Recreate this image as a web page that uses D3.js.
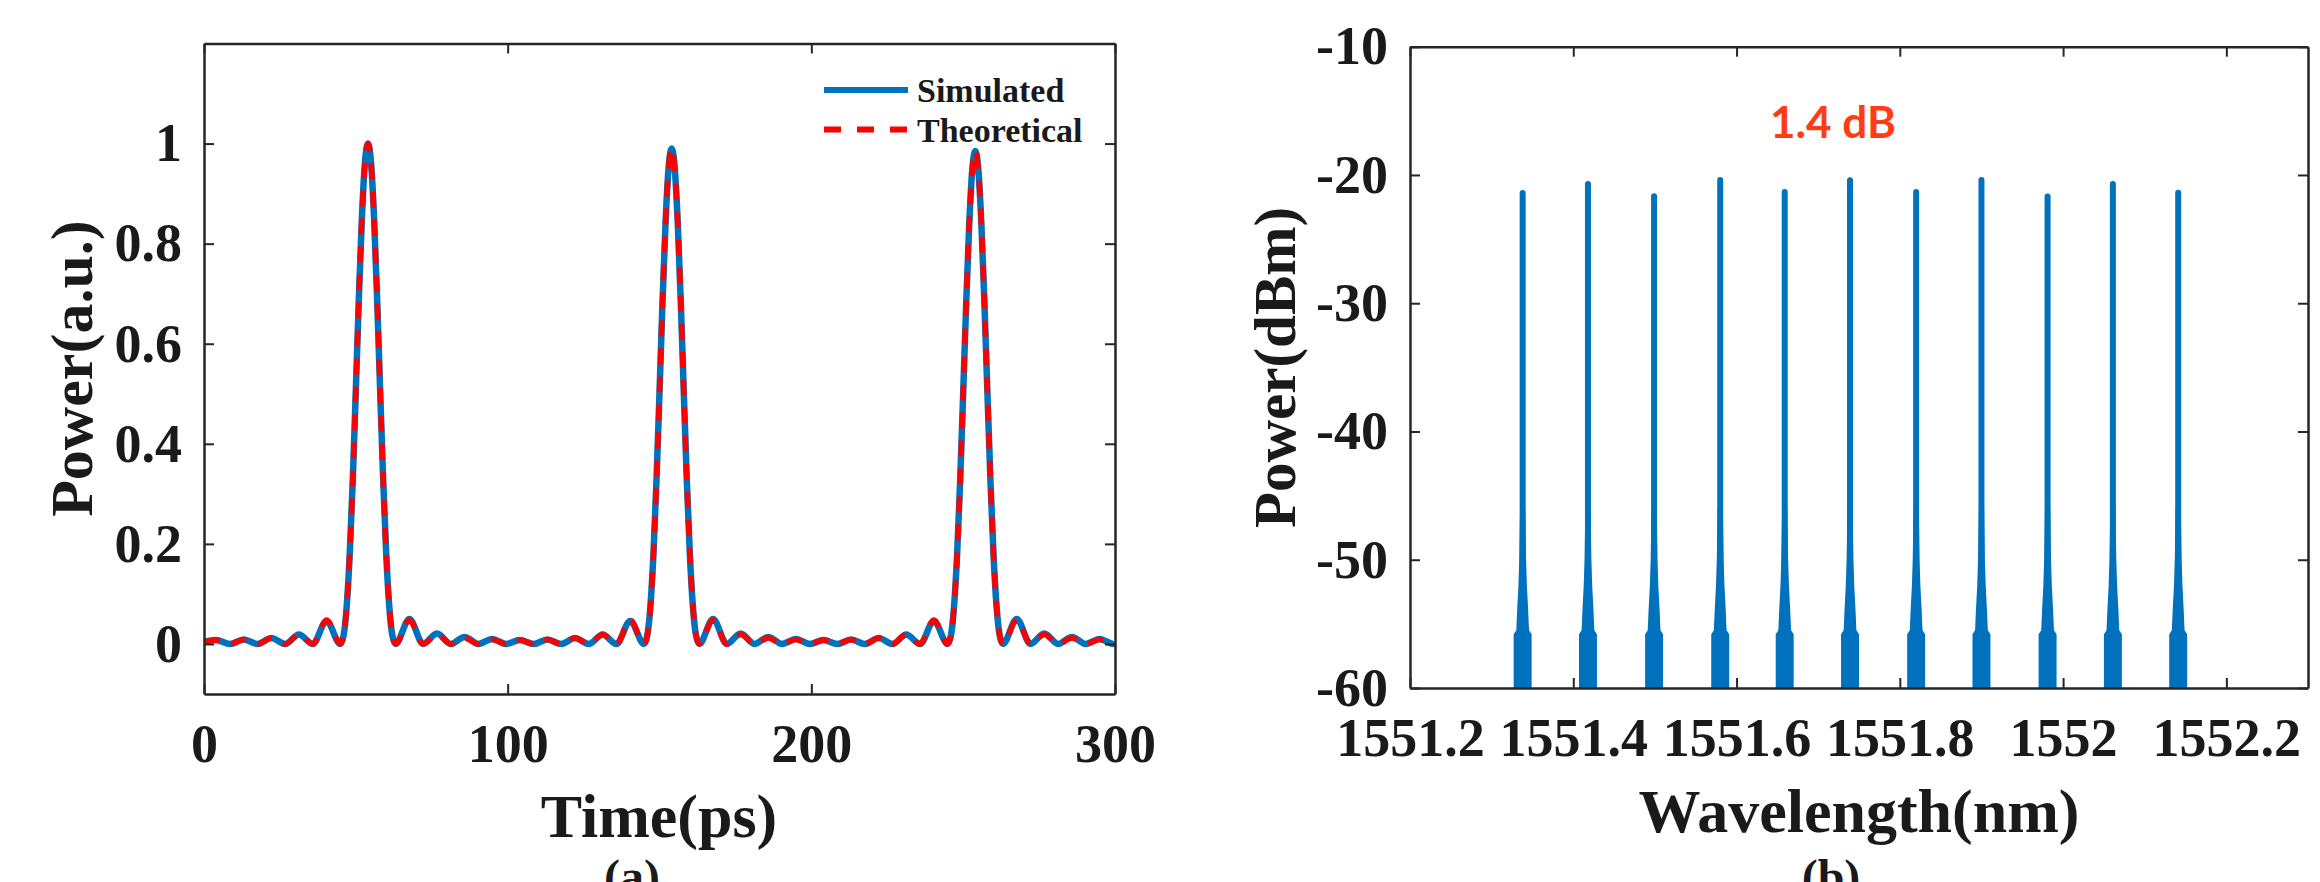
<!DOCTYPE html>
<html lang="en">
<head>
  <meta charset="UTF-8">
  <title>Pulse train and comb spectrum</title>
  <style>
    body { margin: 0; background: #fff; }
    svg { display: block; background: #fff; }
    .tick text, .lbl { font-family: "Liberation Serif", "Times New Roman", serif; font-weight: bold; fill: #1a1a1a; }
  </style>
</head>
<body>
  <svg class="chart"></svg>
  <script src="https://cdn.jsdelivr.net/npm/d3@7"></script>
  <script>
    // ---- (a) pulse train ----
    var timePs = [0, 4, 8.55, 13.09, 17.64, 22.18, 26.73, 31.27, 35.82, 40.36, 44.91,
      46, 47, 48, 49, 50, 51, 52, 53, 54, 55, 56, 57, 58, 59, 60, 61, 62,
      63.09, 67.64, 72.18, 76.73, 81.27, 85.82, 90.36, 94.91, 99.45, 104, 108.55,
      113.09, 117.64, 122.18, 126.73, 131.27, 135.82, 140.36, 144.91,
      146, 147, 148, 149, 150, 151, 152, 153, 154, 155, 156, 157, 158, 159, 160, 161, 162,
      163.09, 167.64, 172.18, 176.73, 181.27, 185.82, 190.36, 194.91, 199.45, 204, 208.55,
      213.09, 217.64, 222.18, 226.73, 231.27, 235.82, 240.36, 244.91,
      246, 247, 248, 249, 250, 251, 252, 253, 254, 255, 256, 257, 258, 259, 260, 261, 262,
      263.09, 267.64, 272.18, 276.73, 281.27, 285.82, 290.36, 294.91, 299.45, 300];

    var simulated = [0.004, 0.008, 0, 0.009, 0, 0.012, 0, 0.019, 0, 0.046, 0,
      0.018, 0.076, 0.181, 0.329, 0.508, 0.692, 0.852, 0.962, 1.0, 0.962, 0.852, 0.692, 0.508, 0.329, 0.181, 0.076, 0.018,
      0, 0.05, 0, 0.021, 0, 0.014, 0, 0.01, 0, 0.008, 0,
      0.009, 0, 0.012, 0, 0.019, 0, 0.046, 0,
      0.018, 0.075, 0.179, 0.326, 0.503, 0.685, 0.843, 0.952, 0.99, 0.952, 0.843, 0.685, 0.503, 0.326, 0.179, 0.075, 0.018,
      0, 0.05, 0, 0.021, 0, 0.014, 0, 0.01, 0, 0.008, 0,
      0.009, 0, 0.012, 0, 0.019, 0, 0.046, 0,
      0.018, 0.075, 0.178, 0.324, 0.5, 0.682, 0.839, 0.948, 0.985, 0.948, 0.839, 0.682, 0.5, 0.324, 0.178, 0.075, 0.018,
      0, 0.05, 0, 0.021, 0, 0.014, 0, 0.01, 0, 0.002];

    var theoretical = [0.003, 0.008, 0, 0.009, 0, 0.012, 0, 0.019, 0, 0.048, 0,
      0.018, 0.076, 0.181, 0.329, 0.508, 0.692, 0.852, 0.962, 1.0, 0.962, 0.852, 0.692, 0.508, 0.329, 0.181, 0.076, 0.018,
      0, 0.048, 0, 0.019, 0, 0.012, 0, 0.009, 0, 0.008, 0,
      0.009, 0, 0.012, 0, 0.019, 0, 0.048, 0,
      0.018, 0.075, 0.179, 0.326, 0.503, 0.685, 0.843, 0.952, 0.99, 0.952, 0.843, 0.685, 0.503, 0.326, 0.179, 0.075, 0.018,
      0, 0.048, 0, 0.019, 0, 0.012, 0, 0.009, 0, 0.008, 0,
      0.009, 0, 0.012, 0, 0.019, 0, 0.048, 0,
      0.018, 0.075, 0.178, 0.324, 0.5, 0.682, 0.839, 0.948, 0.985, 0.948, 0.839, 0.682, 0.5, 0.324, 0.178, 0.075, 0.018,
      0, 0.048, 0, 0.019, 0, 0.012, 0, 0.009, 0, 0.002];

    var timeTicks = [0, 100, 200, 300];
    var powerTicks = [0, 0.2, 0.4, 0.6, 0.8, 1];

    // ---- (b) comb spectrum ----
    var wavelengthNm = [1551.338, 1551.418, 1551.499, 1551.580, 1551.659, 1551.739,
      1551.820, 1551.900, 1551.981, 1552.061, 1552.141];
    var peakDbm = [-21.4, -20.7, -21.66, -20.39, -21.32, -20.42, -21.32, -20.4, -21.68, -20.7, -21.38];
    // skirt of every line near the floor: level (dBm) and half width (nm)
    var skirtDbm = [-46, -50, -52, -54, -55.5, -55.8, -60];
    var skirtHalfNm = [0.0032, 0.0042, 0.0052, 0.0068, 0.0078, 0.011, 0.011];

    var wlTicks = [1551.2, 1551.4, 1551.6, 1551.8, 1552, 1552.2];
    var dbmTicks = [-60, -50, -40, -30, -20, -10];

    var W = 2320, H = 882;
    var blue = '#0072bd', red = '#ff0000', ink = '#262626';
    var tickFont = 54;

    var svg = d3.select('svg').attr('width', W).attr('height', H);
    var defs = svg.append('defs');

    function drawFrame(id, x, y, xt, yt) {
      var r = x.range(), b = y.range();
      defs.append('clipPath').attr('id', id)
        .append('rect').attr('x', r[0]).attr('y', b[1]).attr('width', r[1] - r[0]).attr('height', b[0] - b[1]);

      var fmt = function (d) { return String(d); };
      var axes = [
        [d3.axisBottom(x).tickValues(xt).tickFormat(fmt).tickPadding(30), 'translate(0,' + b[0] + ')'],
        [d3.axisTop(x).tickValues(xt).tickFormat(''), 'translate(0,' + b[1] + ')'],
        [d3.axisLeft(y).tickValues(yt).tickFormat(fmt).tickPadding(22), 'translate(' + r[0] + ',0)'],
        [d3.axisRight(y).tickValues(yt).tickFormat(''), 'translate(' + r[1] + ',0)']
      ];
      axes.forEach(function (a) {
        var g = svg.append('g').attr('transform', a[1])
          .call(a[0].tickSizeInner(-10).tickSizeOuter(0))
          .attr('font-size', null).attr('font-family', null);
        g.select('.domain').attr('stroke', ink).attr('stroke-width', 2.5);
        g.selectAll('.tick line').attr('stroke', ink).attr('stroke-width', 2);
        g.selectAll('.tick text').style('font-size', tickFont + 'px').attr('fill', '#1a1a1a');
      });
    }

    // ---------- panel (a) ----------
    var xA = d3.scaleLinear().domain([0, 300]).range([204, 1115]);
    var yA = d3.scaleLinear().domain([-0.1, 1.2]).range([694, 43.5]);

    var lineA = d3.line()
      .x(function (d) { return xA(d[0]); })
      .y(function (d) { return yA(d[1]); })
      .curve(d3.curveMonotoneX);

    var simPts = timePs.map(function (t, i) { return [t, simulated[i]]; });
    var theoPts = timePs.map(function (t, i) { return [t, theoretical[i]]; });

    var plotA = svg.append('g').attr('clip-path', 'url(#clipA)');
    drawFrame('clipA', xA, yA, timeTicks, powerTicks);

    plotA.append('path').datum(simPts)
      .attr('d', lineA).attr('fill', 'none')
      .attr('stroke', blue).attr('stroke-width', 6.5).attr('stroke-linejoin', 'round');
    plotA.append('path').datum(theoPts)
      .attr('d', lineA).attr('fill', 'none')
      .attr('stroke', red).attr('stroke-width', 5.5)
      .attr('stroke-dasharray', '16,12');

    // legend
    var leg = svg.append('g');
    leg.append('line').attr('x1', 824).attr('x2', 908).attr('y1', 90).attr('y2', 90)
      .attr('stroke', blue).attr('stroke-width', 6);
    leg.append('line').attr('x1', 824).attr('x2', 908).attr('y1', 129.5).attr('y2', 129.5)
      .attr('stroke', red).attr('stroke-width', 6).attr('stroke-dasharray', '17,16');
    leg.append('text').attr('class', 'lbl').attr('x', 917).attr('y', 102)
      .style('font-size', '34px').text('Simulated');
    leg.append('text').attr('class', 'lbl').attr('x', 917).attr('y', 141.5)
      .style('font-size', '34px').text('Theoretical');

    svg.append('text').attr('class', 'lbl')
      .attr('x', 659).attr('y', 837).attr('text-anchor', 'middle')
      .style('font-size', '62px').text('Time(ps)');
    svg.append('text').attr('class', 'lbl')
      .attr('transform', 'translate(92,368.5) rotate(-90)').attr('text-anchor', 'middle')
      .style('font-size', '60px').text('Power(a.u.)');
    svg.append('text').attr('class', 'lbl')
      .attr('x', 632).attr('y', 893).attr('text-anchor', 'middle')
      .style('font-size', '48px').text('(a)');

    // ---------- panel (b) ----------
    var xB = d3.scaleLinear().domain([1551.2, 1552.3]).range([1410, 2308]);
    var yB = d3.scaleLinear().domain([-60, -10]).range([688, 46.7]);

    var plotB = svg.append('g').attr('clip-path', 'url(#clipB)');

    var skirt = d3.area()
      .x0(function (d) { return xB(d.c - d.h); })
      .x1(function (d) { return xB(d.c + d.h); })
      .y(function (d) { return yB(d.v); })
      .curve(d3.curveLinear);

    var tones = plotB.selectAll('g.tone')
      .data(wavelengthNm.map(function (w, i) { return { wl: w, peak: peakDbm[i] }; }))
      .enter().append('g').attr('class', 'tone');

    tones.append('path')
      .attr('d', function (d) {
        return skirt(skirtDbm.map(function (v, k) { return { c: d.wl, h: skirtHalfNm[k], v: v }; }));
      })
      .attr('fill', blue);

    tones.append('line')
      .attr('x1', function (d) { return xB(d.wl); })
      .attr('x2', function (d) { return xB(d.wl); })
      .attr('y1', function (d) { return yB(d.peak); })
      .attr('y2', yB(-62))
      .attr('stroke', blue).attr('stroke-width', 6).attr('stroke-linecap', 'round');

    drawFrame('clipB', xB, yB, wlTicks, dbmTicks);

    svg.append('text')
      .attr('x', 1833).attr('y', 138).attr('text-anchor', 'middle')
      .style('font-family', 'Lato, "Open Sans", sans-serif').style('font-weight', 'bold')
      .style('font-size', '44px').attr('fill', '#ff3c14').text('1.4 dB');

    svg.append('text').attr('class', 'lbl')
      .attr('x', 1859).attr('y', 832).attr('text-anchor', 'middle')
      .style('font-size', '62px').text('Wavelength(nm)');
    svg.append('text').attr('class', 'lbl')
      .attr('transform', 'translate(1295,367.5) rotate(-90)').attr('text-anchor', 'middle')
      .style('font-size', '59px').text('Power(dBm)');
    svg.append('text').attr('class', 'lbl')
      .attr('x', 1831).attr('y', 893).attr('text-anchor', 'middle')
      .style('font-size', '48px').text('(b)');
  </script>
</body>
</html>
